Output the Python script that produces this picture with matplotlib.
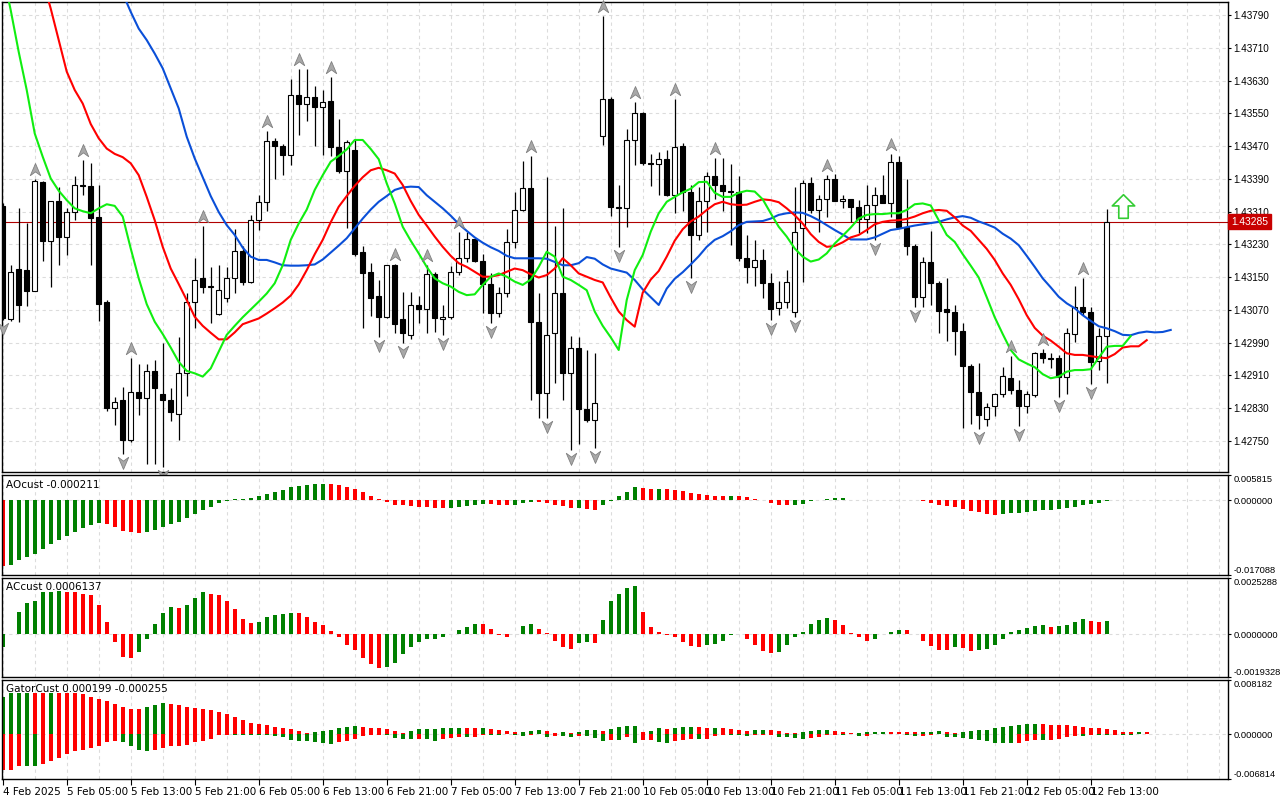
import numpy as np
import matplotlib
matplotlib.use("Agg")
import matplotlib.pyplot as plt
from matplotlib.path import Path
from matplotlib.transforms import offset_copy, blended_transform_factory

plt.rcParams['font.family'] = ['DejaVu Sans']
plt.rcParams['font.size'] = 7.5

# ---------------------------------------------------------------
# H1 bars, 4 Feb 21:00 .. 12 Feb 15:00
# ---------------------------------------------------------------
OPEN = [1.43324, 1.43047, 1.43169, 1.43167, 1.43117, 1.43382, 1.43239, 1.43335, 1.43247, 1.43308,
        1.43376, 1.43372, 1.43297, 1.43090, 1.42831, 1.42851, 1.42751, 1.42870, 1.42854, 1.42921,
        1.42864, 1.42851, 1.42815, 1.42915, 1.43090, 1.43149, 1.43127, 1.43061, 1.43098, 1.43147,
        1.43214, 1.43139, 1.43289, 1.43333, 1.43482, 1.43471, 1.43448, 1.43595, 1.43574, 1.43591,
        1.43566, 1.43580, 1.43468, 1.43409, 1.43460, 1.43212, 1.43163, 1.43105, 1.43052, 1.43179,
        1.43048, 1.43009, 1.43082, 1.43071, 1.43158, 1.43047, 1.43052, 1.43163, 1.43196, 1.43242,
        1.43190, 1.43133, 1.43063, 1.43112, 1.43235, 1.43315, 1.43368, 1.43041, 1.42866, 1.43013,
        1.43112, 1.42917, 1.42978, 1.42829, 1.42801, 1.43495, 1.43585, 1.43322, 1.43320, 1.43485,
        1.43550, 1.43428, 1.43426, 1.43438, 1.43350, 1.43470, 1.43359, 1.43254, 1.43336, 1.43397,
        1.43375, 1.43361, 1.43359, 1.43197, 1.43175, 1.43192, 1.43135, 1.43074, 1.43090, 1.43064,
        1.43269, 1.43381, 1.43314, 1.43342, 1.43389, 1.43337, 1.43340, 1.43322, 1.43293, 1.43326,
        1.43350, 1.43332, 1.43430, 1.43273, 1.43227, 1.43102, 1.43186, 1.43135, 1.43071, 1.43066,
        1.43019, 1.42934, 1.42870, 1.42803, 1.42836, 1.42864, 1.42904, 1.42874, 1.42834, 1.42862,
        1.42964, 1.42953, 1.42953, 1.42907, 1.43011, 1.43076, 1.43066, 1.42946, 1.43005]
HIGH = [1.43330, 1.43179, 1.43318, 1.43283, 1.43390, 1.43385, 1.43335, 1.43371, 1.43318, 1.43397,
        1.43436, 1.43428, 1.43376, 1.43095, 1.42858, 1.42881, 1.42952, 1.42939, 1.42939, 1.42948,
        1.42988, 1.42878, 1.43004, 1.43110, 1.43196, 1.43275, 1.43175, 1.43179, 1.43175, 1.43267,
        1.43226, 1.43302, 1.43350, 1.43507, 1.43489, 1.43475, 1.43633, 1.43658, 1.43658, 1.43617,
        1.43607, 1.43638, 1.43536, 1.43485, 1.43485, 1.43226, 1.43184, 1.43143, 1.43180, 1.43182,
        1.43114, 1.43114, 1.43104, 1.43179, 1.43162, 1.43082, 1.43178, 1.43261, 1.43259, 1.43245,
        1.43206, 1.43159, 1.43127, 1.43267, 1.43359, 1.43433, 1.43446, 1.43112, 1.43395, 1.43275,
        1.43320, 1.43006, 1.43003, 1.42972, 1.42965, 1.43788, 1.43590, 1.43375, 1.43512, 1.43578,
        1.43553, 1.43450, 1.43456, 1.43460, 1.43585, 1.43478, 1.43375, 1.43369, 1.43407, 1.43442,
        1.43442, 1.43426, 1.43398, 1.43253, 1.43241, 1.43219, 1.43159, 1.43140, 1.43167, 1.43369,
        1.43387, 1.43394, 1.43350, 1.43399, 1.43402, 1.43350, 1.43342, 1.43338, 1.43375, 1.43369,
        1.43399, 1.43451, 1.43447, 1.43390, 1.43230, 1.43198, 1.43263, 1.43140, 1.43147, 1.43082,
        1.43037, 1.42937, 1.42941, 1.42842, 1.42868, 1.42930, 1.42957, 1.42899, 1.42872, 1.42968,
        1.42974, 1.42965, 1.42960, 1.43025, 1.43128, 1.43149, 1.43076, 1.43025, 1.43316]
LOW = [1.43045, 1.43044, 1.43041, 1.43080, 1.43115, 1.43190, 1.43125, 1.43179, 1.43204, 1.43289,
       1.43350, 1.43179, 1.43044, 1.42824, 1.42790, 1.42717, 1.42748, 1.42813, 1.42693, 1.42693,
       1.42687, 1.42799, 1.42752, 1.42860, 1.43025, 1.43112, 1.43039, 1.43058, 1.43090, 1.43112,
       1.43131, 1.43135, 1.43265, 1.43312, 1.43390, 1.43399, 1.43425, 1.43497, 1.43532, 1.43471,
       1.43448, 1.43446, 1.43405, 1.43271, 1.43201, 1.43026, 1.43055, 1.43004, 1.43050, 1.43013,
       1.42988, 1.43000, 1.43039, 1.43013, 1.43017, 1.43009, 1.43047, 1.43155, 1.43188, 1.43188,
       1.43063, 1.43039, 1.43052, 1.43102, 1.43220, 1.43312, 1.42850, 1.42805, 1.42805, 1.42892,
       1.42851, 1.42728, 1.42742, 1.42795, 1.42732, 1.43473, 1.43299, 1.43224, 1.43273, 1.43425,
       1.43425, 1.43373, 1.43350, 1.43348, 1.43306, 1.43312, 1.43147, 1.43241, 1.43259, 1.43340,
       1.43312, 1.43228, 1.43189, 1.43135, 1.43129, 1.43098, 1.43045, 1.43057, 1.43074, 1.43052,
       1.43137, 1.43306, 1.43259, 1.43297, 1.43337, 1.43318, 1.43284, 1.43257, 1.43257, 1.43241,
       1.43330, 1.43297, 1.43270, 1.43204, 1.43078, 1.43078, 1.43082, 1.43014, 1.42995, 1.42960,
       1.42782, 1.42791, 1.42779, 1.42787, 1.42811, 1.42858, 1.42864, 1.42786, 1.42819, 1.42858,
       1.42941, 1.42927, 1.42858, 1.42864, 1.42992, 1.43057, 1.42889, 1.42922, 1.42891]
CLOSE = [1.43049, 1.43163, 1.43083, 1.43117, 1.43385, 1.43239, 1.43335, 1.43247, 1.43308, 1.43376,
         1.43372, 1.43295, 1.43084, 1.42831, 1.42846, 1.42751, 1.42870, 1.42854, 1.42921, 1.42878,
         1.42851, 1.42820, 1.42915, 1.43090, 1.43144, 1.43127, 1.43129, 1.43118, 1.43147, 1.43214,
         1.43139, 1.43289, 1.43333, 1.43482, 1.43471, 1.43448, 1.43595, 1.43572, 1.43591, 1.43566,
         1.43577, 1.43468, 1.43409, 1.43481, 1.43206, 1.43161, 1.43100, 1.43052, 1.43179, 1.43035,
         1.43013, 1.43082, 1.43071, 1.43158, 1.43049, 1.43052, 1.43163, 1.43196, 1.43242, 1.43190,
         1.43133, 1.43063, 1.43112, 1.43235, 1.43315, 1.43368, 1.43041, 1.42866, 1.43009, 1.43112,
         1.42917, 1.42978, 1.42829, 1.42801, 1.42843, 1.43585, 1.43322, 1.43320, 1.43485, 1.43550,
         1.43428, 1.43426, 1.43438, 1.43350, 1.43467, 1.43359, 1.43254, 1.43336, 1.43397, 1.43375,
         1.43361, 1.43359, 1.43197, 1.43175, 1.43192, 1.43135, 1.43071, 1.43090, 1.43139, 1.43259,
         1.43381, 1.43314, 1.43342, 1.43389, 1.43337, 1.43340, 1.43322, 1.43293, 1.43326, 1.43350,
         1.43332, 1.43430, 1.43273, 1.43227, 1.43102, 1.43186, 1.43135, 1.43068, 1.43066, 1.43019,
         1.42934, 1.42870, 1.42813, 1.42832, 1.42864, 1.42908, 1.42874, 1.42834, 1.42864, 1.42964,
         1.42953, 1.42951, 1.42907, 1.43013, 1.43076, 1.43066, 1.42943, 1.43005, 1.43285]

# alligator lines (already shifted forward), first bar index of each
JAW_START, TEETH_START, LIPS_START = 15, 5, 0
JAW = [1.43843, 1.43798, 1.43757, 1.43729, 1.43696, 1.43660, 1.43611, 1.43562, 1.43493, 1.43440,
       1.43394, 1.43348, 1.43309, 1.43277, 1.43253, 1.43222, 1.43200, 1.43192, 1.43192, 1.43186,
       1.43179, 1.43178, 1.43178, 1.43179, 1.43181, 1.43193, 1.43210, 1.43227, 1.43245, 1.43269,
       1.43293, 1.43315, 1.43334, 1.43348, 1.43363, 1.43369, 1.43371, 1.43370, 1.43350, 1.43334,
       1.43318, 1.43300, 1.43280, 1.43263, 1.43247, 1.43234, 1.43223, 1.43214, 1.43202, 1.43196,
       1.43196, 1.43196, 1.43196, 1.43195, 1.43187, 1.43179, 1.43179, 1.43184, 1.43199, 1.43195,
       1.43181, 1.43171, 1.43166, 1.43161, 1.43143, 1.43120, 1.43101, 1.43082, 1.43122, 1.43146,
       1.43162, 1.43181, 1.43201, 1.43224, 1.43241, 1.43250, 1.43262, 1.43277, 1.43285, 1.43286,
       1.43287, 1.43293, 1.43302, 1.43306, 1.43308, 1.43307, 1.43299, 1.43289, 1.43277, 1.43265,
       1.43254, 1.43242, 1.43242, 1.43242, 1.43247, 1.43256, 1.43265, 1.43268, 1.43272, 1.43276,
       1.43279, 1.43282, 1.43285, 1.43291, 1.43296, 1.43299, 1.43295, 1.43286, 1.43279, 1.43271,
       1.43256, 1.43244, 1.43228, 1.43202, 1.43175, 1.43147, 1.43125, 1.43102, 1.43086, 1.43074,
       1.43057, 1.43043, 1.43030, 1.43025, 1.43018, 1.43009, 1.43008, 1.43014, 1.43017, 1.43015,
       1.43016, 1.43021]
TEETH = [1.43875, 1.43806, 1.43729, 1.43652, 1.43607, 1.43574, 1.43524, 1.43489, 1.43464, 1.43451,
         1.43443, 1.43428, 1.43399, 1.43346, 1.43289, 1.43224, 1.43171, 1.43133, 1.43094, 1.43053,
         1.43031, 1.43014, 1.42998, 1.42998, 1.43015, 1.43035, 1.43042, 1.43049, 1.43061, 1.43074,
         1.43088, 1.43105, 1.43132, 1.43167, 1.43206, 1.43241, 1.43284, 1.43322, 1.43348, 1.43373,
         1.43394, 1.43411, 1.43417, 1.43411, 1.43403, 1.43375, 1.43336, 1.43302, 1.43276, 1.43249,
         1.43224, 1.43202, 1.43184, 1.43175, 1.43163, 1.43151, 1.43151, 1.43155, 1.43163, 1.43171,
         1.43167, 1.43157, 1.43149, 1.43155, 1.43171, 1.43196, 1.43179, 1.43159, 1.43151, 1.43143,
         1.43137, 1.43100, 1.43066, 1.43045, 1.43029, 1.43112, 1.43144, 1.43165, 1.43200, 1.43239,
         1.43267, 1.43286, 1.43298, 1.43314, 1.43328, 1.43334, 1.43328, 1.43326, 1.43327, 1.43334,
         1.43340, 1.43338, 1.43333, 1.43318, 1.43301, 1.43281, 1.43255, 1.43236, 1.43224, 1.43226,
         1.43235, 1.43247, 1.43253, 1.43265, 1.43279, 1.43285, 1.43288, 1.43289, 1.43292, 1.43298,
         1.43306, 1.43312, 1.43314, 1.43312, 1.43296, 1.43276, 1.43263, 1.43241, 1.43219, 1.43192,
         1.43159, 1.43131, 1.43096, 1.43057, 1.43026, 1.43007, 1.42995, 1.42980, 1.42964, 1.42960,
         1.42960, 1.42957, 1.42954, 1.42952, 1.42962, 1.42978, 1.42981, 1.42981, 1.42996]
LIPS = [1.43896, 1.43802, 1.43700, 1.43607, 1.43501, 1.43444, 1.43391, 1.43361, 1.43338, 1.43318,
        1.43311, 1.43306, 1.43318, 1.43328, 1.43324, 1.43298, 1.43220, 1.43147, 1.43084, 1.43041,
        1.43011, 1.42978, 1.42943, 1.42921, 1.42915, 1.42907, 1.42927, 1.42968, 1.43009, 1.43031,
        1.43052, 1.43071, 1.43090, 1.43110, 1.43135, 1.43179, 1.43241, 1.43281, 1.43315, 1.43363,
        1.43399, 1.43432, 1.43446, 1.43462, 1.43485, 1.43485, 1.43463, 1.43438, 1.43379, 1.43330,
        1.43273, 1.43239, 1.43208, 1.43175, 1.43147, 1.43135, 1.43127, 1.43114, 1.43106, 1.43108,
        1.43131, 1.43151, 1.43159, 1.43151, 1.43139, 1.43131, 1.43144, 1.43175, 1.43212, 1.43200,
        1.43151, 1.43143, 1.43131, 1.43118, 1.43066, 1.43031, 1.43003, 1.42972, 1.43094, 1.43167,
        1.43204, 1.43261, 1.43306, 1.43334, 1.43346, 1.43357, 1.43366, 1.43382, 1.43383, 1.43356,
        1.43346, 1.43346, 1.43356, 1.43361, 1.43359, 1.43340, 1.43306, 1.43273, 1.43249, 1.43220,
        1.43200, 1.43188, 1.43193, 1.43208, 1.43232, 1.43251, 1.43271, 1.43293, 1.43302, 1.43304,
        1.43304, 1.43306, 1.43306, 1.43314, 1.43328, 1.43330, 1.43325, 1.43289, 1.43253, 1.43236,
        1.43206, 1.43178, 1.43149, 1.43101, 1.43052, 1.43011, 1.42972, 1.42949, 1.42939, 1.42930,
        1.42913, 1.42903, 1.42907, 1.42919, 1.42923, 1.42923, 1.42925, 1.42953, 1.42980, 1.42982,
        1.42982, 1.43006]

FRACTAL_UP = [4, 10, 16, 25, 33, 37, 41, 49, 53, 57, 66, 75, 79, 84, 89, 103, 111, 126, 130, 135]
FRACTAL_DOWN = [0, 15, 20, 47, 50, 55, 61, 68, 71, 74, 77, 86, 96, 99, 109, 114, 122, 127, 132, 136]
SIGNAL_BAR, SIGNAL_PRICE = 140, 1.43324
LAST_PRICE = 1.43285

# ---------------------------------------------------------------
# oscillators
# ---------------------------------------------------------------
AO = [-0.01514, -0.01483, -0.01376, -0.01307, -0.01230, -0.01114, -0.00999, -0.00907, -0.00815, -0.00730,
      -0.00630, -0.00561, -0.00523, -0.00546, -0.00615, -0.00707, -0.00715, -0.00753, -0.00730, -0.00676,
      -0.00615, -0.00546, -0.00500, -0.00407, -0.00307, -0.00215, -0.00146, -0.00054, -0.00015, 0.00031,
      0.00038, 0.00054, 0.00100, 0.00146, 0.00192, 0.00246, 0.00300, 0.00338, 0.00361, 0.00372,
      0.00378, 0.00376, 0.00346, 0.00307, 0.00261, 0.00184, 0.00100, 0.00031, -0.00038, -0.00100,
      -0.00102, -0.00125, -0.00146, -0.00148, -0.00168, -0.00170, -0.00166, -0.00146, -0.00123, -0.00100,
      -0.00084, -0.00086, -0.00100, -0.00102, -0.00098, -0.00061, -0.00031, -0.00046, -0.00061, -0.00108,
      -0.00131, -0.00177, -0.00173, -0.00192, -0.00223, -0.00100, -0.00008, 0.00100, 0.00192, 0.00307,
      0.00292, 0.00269, 0.00271, 0.00268, 0.00246, 0.00215, 0.00169, 0.00138, 0.00123, 0.00101,
      0.00099, 0.00101, 0.00099, 0.00077, 0.00023, -0.00002, -0.00054, -0.00100, -0.00102, -0.00099,
      -0.00077, -0.00023, 0.00008, 0.00031, 0.00046, 0.00050, 0.00020, 0.00010, 0.00002, 0.00004,
      0.00006, 0.00008, 0.00010, 0.00006, 0.00002, -0.00020, -0.00054, -0.00100, -0.00131, -0.00154,
      -0.00192, -0.00246, -0.00269, -0.00315, -0.00346, -0.00315, -0.00292, -0.00284, -0.00269, -0.00246,
      -0.00231, -0.00215, -0.00192, -0.00169, -0.00146, -0.00108, -0.00084, -0.00061, -0.00021]
AC = [-0.00057, 0.00001, 0.00101, 0.00138, 0.00147, 0.00188, 0.00192, 0.00193, 0.00191, 0.00190,
      0.00183, 0.00177, 0.00132, 0.00056, -0.00035, -0.00103, -0.00107, -0.00080, -0.00020, 0.00047,
      0.00097, 0.00124, 0.00119, 0.00133, 0.00162, 0.00188, 0.00181, 0.00177, 0.00151, 0.00115,
      0.00070, 0.00051, 0.00056, 0.00079, 0.00088, 0.00092, 0.00097, 0.00096, 0.00079, 0.00056,
      0.00042, 0.00015, -0.00015, -0.00047, -0.00070, -0.00106, -0.00133, -0.00151, -0.00147, -0.00130,
      -0.00088, -0.00060, -0.00034, -0.00024, -0.00020, -0.00011, 0.00001, 0.00020, 0.00033, 0.00047,
      0.00046, 0.00024, -0.00004, -0.00011, -0.00001, 0.00038, 0.00047, 0.00024, 0.00005, -0.00029,
      -0.00056, -0.00065, -0.00038, -0.00035, -0.00038, 0.00065, 0.00147, 0.00181, 0.00206, 0.00219,
      0.00101, 0.00033, 0.00011, -0.00005, -0.00015, -0.00035, -0.00053, -0.00056, -0.00047, -0.00044,
      -0.00029, -0.00005, -0.00001, -0.00020, -0.00047, -0.00076, -0.00085, -0.00080, -0.00051, -0.00015,
      0.00011, 0.00047, 0.00065, 0.00074, 0.00065, 0.00042, 0.00005, -0.00015, -0.00029, -0.00020,
      0.00001, 0.00009, 0.00020, 0.00018, -0.00001, -0.00030, -0.00053, -0.00070, -0.00071, -0.00060,
      -0.00062, -0.00074, -0.00070, -0.00065, -0.00051, -0.00020, 0.00009, 0.00020, 0.00029, 0.00038,
      0.00039, 0.00033, 0.00038, 0.00042, 0.00056, 0.00070, 0.00060, 0.00056, 0.00061]
GATOR_UP = [0.00558, 0.00619, 0.00621, 0.00622, 0.00620, 0.00618, 0.00620, 0.00619, 0.00617, 0.00615,
            0.00609, 0.00558, 0.00527, 0.00496, 0.00450, 0.00415, 0.00384, 0.00374, 0.00404, 0.00435,
            0.00466, 0.00450, 0.00435, 0.00415, 0.00399, 0.00384, 0.00358, 0.00328, 0.00297, 0.00251,
            0.00205, 0.00174, 0.00159, 0.00143, 0.00113, 0.00097, 0.00082, 0.00051, 0.00020, 0.00036,
            0.00051, 0.00067, 0.00097, 0.00113, 0.00118, 0.00113, 0.00097, 0.00092, 0.00082, 0.00051,
            0.00020, 0.00046, 0.00077, 0.00078, 0.00079, 0.00092, 0.00093, 0.00094, 0.00093, 0.00092,
            0.00093, 0.00077, 0.00061, 0.00046, 0.00031, 0.00032, 0.00046, 0.00061, 0.00046, 0.00015,
            0.00031, 0.00015, 0.00031, 0.00061, 0.00062, 0.00046, 0.00077, 0.00107, 0.00123, 0.00124,
            0.00031, 0.00046, 0.00092, 0.00077, 0.00092, 0.00107, 0.00108, 0.00106, 0.00092, 0.00093,
            0.00092, 0.00077, 0.00061, 0.00046, 0.00061, 0.00062, 0.00061, 0.00046, 0.00015, 0.00014,
            0.00031, 0.00046, 0.00061, 0.00062, 0.00046, 0.00031, 0.00015, 0.00016, 0.00031, 0.00032,
            0.00033, 0.00031, 0.00030, 0.00028, 0.00027, 0.00029, 0.00031, 0.00046, 0.00031, 0.00015,
            0.00026, 0.00046, 0.00061, 0.00062, 0.00092, 0.00107, 0.00123, 0.00138, 0.00154, 0.00155,
            0.00153, 0.00138, 0.00137, 0.00136, 0.00123, 0.00107, 0.00092, 0.00091, 0.00077, 0.00061,
            0.00031, 0.00030, 0.00032, 0.00031]
GATOR_DN = [-0.00543, -0.00540, -0.00486, -0.00487, -0.00488, -0.00450, -0.00404, -0.00358, -0.00297, -0.00251,
            -0.00235, -0.00205, -0.00174, -0.00128, -0.00113, -0.00128, -0.00174, -0.00235, -0.00251, -0.00235,
            -0.00205, -0.00189, -0.00184, -0.00159, -0.00128, -0.00113, -0.00082, -0.00020, -0.00010, -0.00012,
            -0.00014, -0.00015, -0.00020, -0.00022, -0.00036, -0.00051, -0.00097, -0.00099, -0.00113, -0.00128,
            -0.00143, -0.00145, -0.00128, -0.00113, -0.00082, -0.00036, -0.00020, -0.00010, -0.00020, -0.00067,
            -0.00082, -0.00083, -0.00081, -0.00082, -0.00102, -0.00082, -0.00067, -0.00051, -0.00052, -0.00050,
            -0.00010, -0.00011, -0.00012, -0.00005, -0.00010, -0.00026, -0.00010, -0.00005, -0.00051, -0.00026,
            -0.00027, -0.00041, -0.00026, -0.00027, -0.00067, -0.00102, -0.00092, -0.00093, -0.00041, -0.00138,
            -0.00092, -0.00091, -0.00123, -0.00138, -0.00102, -0.00092, -0.00077, -0.00078, -0.00076, -0.00026,
            -0.00010, -0.00011, -0.00020, -0.00026, -0.00010, -0.00009, -0.00008, -0.00041, -0.00042, -0.00056,
            -0.00077, -0.00056, -0.00041, -0.00010, -0.00009, -0.00010, -0.00005, -0.00026, -0.00025, -0.00005,
            -0.00004, -0.00006, -0.00004, -0.00010, -0.00026, -0.00025, -0.00010, -0.00005, -0.00041, -0.00042,
            -0.00056, -0.00077, -0.00092, -0.00102, -0.00138, -0.00140, -0.00142, -0.00138, -0.00107, -0.00092,
            -0.00093, -0.00092, -0.00077, -0.00041, -0.00026, -0.00027, -0.00010, -0.00011, -0.00012, -0.00010,
            -0.00011, -0.00012]

# x axis labels, one every 8 bars
TIME_LABELS = ["4 Feb 2025", "5 Feb 05:00", "5 Feb 13:00", "5 Feb 21:00", "6 Feb 05:00", "6 Feb 13:00",
               "6 Feb 21:00", "7 Feb 05:00", "7 Feb 13:00", "7 Feb 21:00", "10 Feb 05:00", "10 Feb 13:00",
               "10 Feb 21:00", "11 Feb 05:00", "11 Feb 13:00", "11 Feb 21:00", "12 Feb 05:00", "12 Feb 13:00"]

PRICE_TICKS = [1.42750, 1.42830, 1.42910, 1.42990, 1.43070, 1.43150, 1.43230, 1.43310,
               1.43390, 1.43470, 1.43550, 1.43630, 1.43710, 1.43790]

GREEN, RED = "#008000", "#ff0000"
GRID = dict(color="#dcdcdc", linestyle=(0, (3, 3)), linewidth=0.8)
PRICE_FONT = dict(family=["Liberation Sans", "DejaVu Sans"], size=7.1)
OSC_FONT = dict(family=["Liberation Sans", "DejaVu Sans"], size=6.7)


def colours(vals, first, key=lambda v: v):
    out = [first]
    for a, b in zip(vals[:-1], vals[1:]):
        out.append(GREEN if key(b) > key(a) else RED)
    return out


W, H = 1280, 800
fig = plt.figure(figsize=(W / 100, H / 100), dpi=100)


def axes_px(top, bottom, left=2, right=1228):
    return fig.add_axes([left / W, 1 - bottom / H, (right - left) / W, (bottom - top) / H])


XLIM = (-0.09, 153.16)
ax = axes_px(2, 472)
ax_ao = axes_px(475, 575)
ax_ac = axes_px(578, 677)
ax_gt = axes_px(680, 779)

for a in (ax, ax_ao, ax_ac, ax_gt):
    a.set_xlim(*XLIM)
    for s in a.spines.values():
        s.set_linewidth(1.0)
        s.set_color("black")
    a.yaxis.tick_right()
    a.tick_params(axis="y", direction="out", length=2.5, width=0.8, pad=1.2)
    for gx in range(0, 156, 4):
        a.axvline(gx, zorder=0, **GRID)
    a.set_xticks([])

# ---------------- main price panel ----------------
ax.set_ylim(1.42674, 1.43822)
ax.set_yticks(PRICE_TICKS)
ax.set_yticklabels([f"{p:.5f}" for p in PRICE_TICKS], fontdict=PRICE_FONT)
for p in PRICE_TICKS:
    ax.axhline(p, zorder=0, **GRID)

n = len(CLOSE)
x = np.arange(n)
o, h, l, c = map(np.array, (OPEN, HIGH, LOW, CLOSE))
ax.axhline(LAST_PRICE, color="#b00000", lw=0.8, zorder=1)
ax.vlines(x, l, h, color="black", lw=0.9, zorder=2)
bull = c >= o
ax.bar(x, np.abs(c - o), bottom=np.minimum(o, c), width=0.62,
       color=np.where(bull, "white", "black"), edgecolor="black", linewidth=0.8, zorder=3)

ax.plot(np.arange(JAW_START, JAW_START + len(JAW)), JAW, color="#0a4fd8", lw=1.5, zorder=4)
ax.plot(np.arange(TEETH_START, TEETH_START + len(TEETH)), TEETH, color="#ff0000", lw=1.5, zorder=4)
ax.plot(np.arange(LIPS_START, LIPS_START + len(LIPS)), LIPS, color="#10ee10", lw=1.5, zorder=4)

up_head = Path([(0, 1), (0.75, -0.75), (0, -0.2), (-0.75, -0.75), (0, 1)],
               [Path.MOVETO, Path.LINETO, Path.LINETO, Path.LINETO, Path.CLOSEPOLY])
dn_head = Path([(0, -1), (0.75, 0.75), (0, 0.2), (-0.75, 0.75), (0, -1)],
               [Path.MOVETO, Path.LINETO, Path.LINETO, Path.LINETO, Path.CLOSEPOLY])
tr_up = offset_copy(ax.transData, fig=fig, x=0, y=9, units="dots")
tr_dn = offset_copy(ax.transData, fig=fig, x=0, y=-8, units="dots")
ax.plot(FRACTAL_UP, h[FRACTAL_UP], ls="none", marker=up_head, ms=10, mfc="#a8a8a8",
        mec="#808080", mew=0.6, transform=tr_up, zorder=5, clip_on=False)
ax.plot(FRACTAL_DOWN, l[FRACTAL_DOWN], ls="none", marker=dn_head, ms=10, mfc="#a8a8a8",
        mec="#808080", mew=0.6, transform=tr_dn, zorder=5, clip_on=False)

block_up = Path([(0, 1), (0.95, 0.05), (0.4, 0.05), (0.4, -1), (-0.4, -1), (-0.4, 0.05),
                 (-0.95, 0.05), (0, 1)],
                [Path.MOVETO] + [Path.LINETO] * 6 + [Path.CLOSEPOLY])
ax.plot([SIGNAL_BAR], [SIGNAL_PRICE], marker=block_up, ms=17, mfc="white", mec="#33cc33",
        mew=1.2, ls="none", zorder=6)

trans = blended_transform_factory(ax.transAxes, ax.transData)
ax.text(1.0 + 3 / 1226, LAST_PRICE, f"{LAST_PRICE:.5f}", transform=trans, color="white",
        va="center", ha="left", clip_on=False, fontdict=dict(PRICE_FONT, size=7.4),
        bbox=dict(boxstyle="square,pad=0.25", fc="#c80000", ec="#c80000"))


# ---------------- oscillators ----------------
def osc_panel(a, lims, fmt, title):
    lo, hi = lims
    a.set_ylim(lo, hi)
    a.axhline(0, zorder=0, **GRID)
    a.set_yticks([hi, 0, lo])
    labs = a.set_yticklabels([fmt.format(hi), fmt.format(0.0), fmt.format(lo)], fontdict=OSC_FONT)
    labs[0].set_va("top")
    labs[2].set_va("bottom")
    a.text(0.0035, 0.905, title, transform=a.transAxes, fontsize=7.5, va="center", ha="left")


osc_panel(ax_ao, (-0.017088, 0.005815), "{:.6f}", "AOcust -0.000211")
ax_ao.bar(np.arange(len(AO)), AO, width=0.5, color=colours(AO, RED), zorder=2)

osc_panel(ax_ac, (-0.0019328, 0.0025288), "{:.7f}", "ACcust 0.0006137")
ax_ac.bar(np.arange(len(AC)), AC, width=0.5, color=colours(AC, GREEN), zorder=2)

osc_panel(ax_gt, (-0.006814, 0.008182), "{:.6f}", "GatorCust 0.000199 -0.000255")
ax_gt.bar(np.arange(len(GATOR_UP)), GATOR_UP, width=0.5, color=colours(GATOR_UP, GREEN), zorder=2)
ax_gt.bar(np.arange(len(GATOR_DN)), GATOR_DN, width=0.5,
          color=colours(GATOR_DN, RED, key=abs), zorder=2)

# time axis under the last panel
ax_gt.set_xticks(np.arange(0, 8 * len(TIME_LABELS), 8))
ax_gt.set_xticklabels(TIME_LABELS, ha="left")
ax_gt.tick_params(axis="x", direction="out", length=4, width=0.8, pad=2, labelsize=7.5)

fig.savefig("out.png", dpi=100)
